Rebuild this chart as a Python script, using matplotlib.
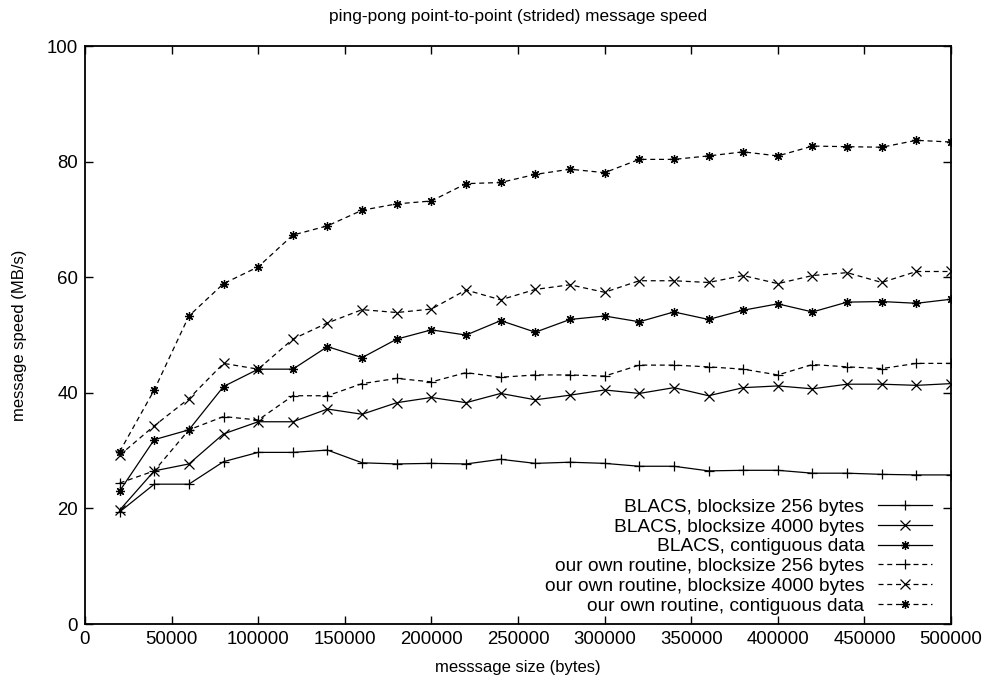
import matplotlib.pyplot as plt
import numpy as np

plt.rcParams['font.family'] = ['Liberation Sans', 'DejaVu Sans']

# message sizes in bytes
sizes = [20000, 40000, 60000, 80000, 100000, 120000, 140000, 160000, 180000,
         200000, 220000, 240000, 260000, 280000, 300000, 320000, 340000,
         360000, 380000, 400000, 420000, 440000, 460000, 480000, 500000]

# speeds in MB/s
blacs_256 = [19.4, 24.2, 24.2, 28.1, 29.7, 29.7, 30.1, 27.9, 27.7, 27.8, 27.7,
             28.5, 27.8, 28.0, 27.8, 27.3, 27.3, 26.5, 26.6, 26.6, 26.1, 26.1,
             25.9, 25.8, 25.8]
blacs_4000 = [19.7, 26.5, 27.7, 32.9, 35.0, 35.0, 37.2, 36.3, 38.3, 39.2, 38.3,
              39.9, 38.8, 39.6, 40.5, 39.9, 40.9, 39.5, 40.9, 41.2, 40.7, 41.5,
              41.5, 41.3, 41.6]
blacs_contig = [23.0, 31.9, 33.6, 41.1, 44.1, 44.1, 48.0, 46.1, 49.3, 50.9,
                50.0, 52.5, 50.5, 52.7, 53.3, 52.3, 54.0, 52.7, 54.3, 55.4,
                54.0, 55.7, 55.8, 55.5, 56.2]
own_256 = [24.4, 26.5, 33.6, 35.9, 35.3, 39.5, 39.5, 41.6, 42.5, 41.9, 43.5,
           42.7, 43.1, 43.1, 42.9, 44.8, 44.8, 44.5, 44.1, 43.1, 44.9, 44.5,
           44.2, 45.1, 45.1]
own_4000 = [29.2, 34.3, 39.0, 45.1, 44.1, 49.3, 52.1, 54.4, 53.9, 54.5, 57.8,
            56.1, 57.9, 58.7, 57.4, 59.4, 59.4, 59.1, 60.3, 58.9, 60.3, 60.8,
            59.1, 61.0, 61.0]
own_contig = [29.8, 40.5, 53.3, 58.9, 61.8, 67.3, 68.9, 71.6, 72.7, 73.2, 76.2,
              76.4, 77.8, 78.7, 78.1, 80.4, 80.4, 81.0, 81.7, 81.0, 82.7, 82.6,
              82.5, 83.7, 83.4]

# gnuplot-like point types: plus, cross, star (plus + cross)
series = [
    ("BLACS, blocksize 256 bytes", blacs_256, "-", "+"),
    ("BLACS, blocksize 4000 bytes", blacs_4000, "-", "x"),
    ("BLACS, contiguous data", blacs_contig, "-", (8, 2, 0)),
    ("our own routine, blocksize 256 bytes", own_256, "--", "+"),
    ("our own routine, blocksize 4000 bytes", own_4000, "--", "x"),
    ("our own routine, contiguous data", own_contig, "--", (8, 2, 0)),
]

fig = plt.figure(figsize=(9.88, 6.85), dpi=100)
ax = fig.add_axes([0.086, 0.089, 0.8766, 0.8437])

for label, vals, ls, mk in series:
    style = "-" if ls == "-" else (0, (4, 3))
    ax.plot(sizes, vals, color="black", linestyle=style, linewidth=0.9,
            marker=mk, markersize=6.5, markeredgewidth=0.9, label=label)

ax.set_xlim(0, 500000)
ax.set_ylim(0, 100)
ax.set_xticks(np.arange(0, 500001, 50000))
ax.set_yticks(np.arange(0, 101, 20))
ax.ticklabel_format(style="plain", axis="x")
ax.tick_params(direction="in", length=6, width=1, top=True, right=True,
               labelsize=13.4, pad=5)
for sp in ax.spines.values():
    sp.set_linewidth(1.3)

ax.set_title("ping-pong point-to-point (strided) message speed",
             fontsize=12.4, pad=18)
ax.set_xlabel("messsage size (bytes)", fontsize=12, labelpad=9)
ax.set_ylabel("message speed (MB/s)", fontsize=12, labelpad=14)

ax.legend(loc="lower right", bbox_to_anchor=(0.987, 0.003), frameon=False,
          markerfirst=False, fontsize=13.8, handlelength=2.8,
          labelspacing=0.12, handletextpad=0.73, borderaxespad=0)

fig.savefig("out.png", dpi=100)
